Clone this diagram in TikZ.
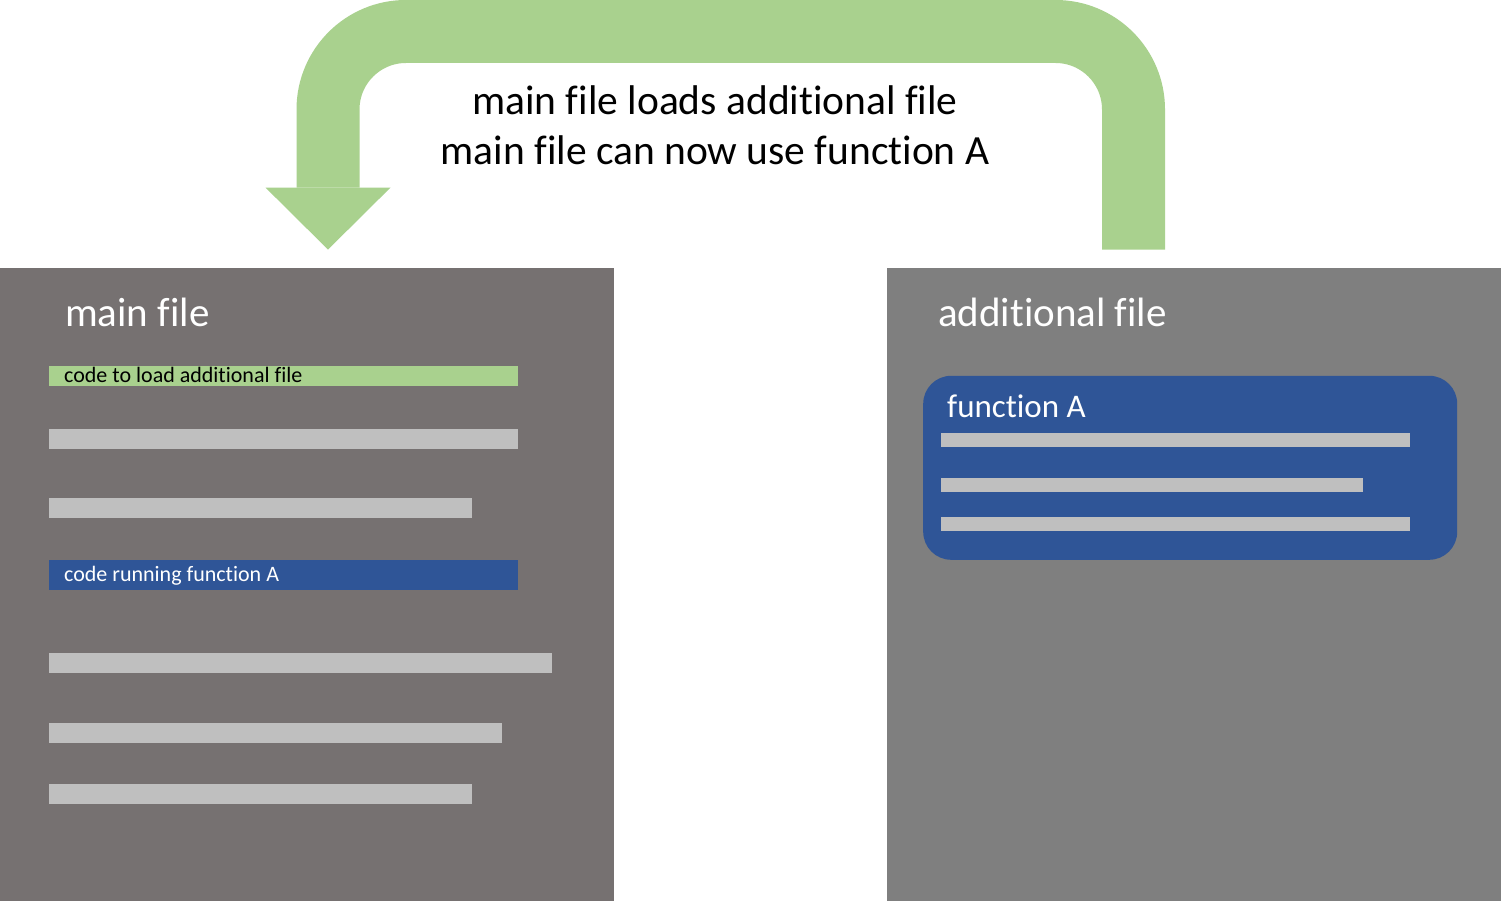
\documentclass[tikz,border=0pt]{standalone}
\usepackage{fontspec}
\setmainfont{Carlito}[Ligatures=NoCommon]
\usetikzlibrary{arrows.meta}
\usetikzlibrary{positioning}

\definecolor{maingray}{HTML}{767171}
\definecolor{addgray}{HTML}{7F7F7F}
\definecolor{linegray}{HTML}{BFBFBF}
\definecolor{loadgreen}{HTML}{A9D18E}
\definecolor{funcblue}{HTML}{2F5597}

\tikzset{
  filebox/.style={anchor=south west, minimum width=614pt, minimum height=633pt, inner sep=0pt},
  filetitle/.style={anchor=base west, inner sep=0pt, text=white, font=\fontsize{41}{49}\selectfont},
  codebar/.style={anchor=south west, minimum width=469pt, minimum height=20pt, inner sep=0pt},
  barlabel/.style={anchor=base west, inner sep=0pt, font=\fontsize{22}{26}\selectfont},
  funcbox/.style={anchor=south west, fill=funcblue, rounded corners=28pt, minimum width=534pt, minimum height=184pt, inner sep=0pt},
  caption/.style={anchor=base, inner sep=0pt, font=\fontsize{41.5}{49}\selectfont},
  loadarrow/.style={loadgreen, line width=63pt, rounded corners=78pt, -{Triangle[width=125pt,length=62pt,line width=0pt]}},
}

\begin{document}
\begin{tikzpicture}[x=1pt,y=1pt]
  \useasboundingbox[fill=white] (0,0) rectangle (1501,901);
  % the two files
  \node[filebox, fill=maingray] (mainfile) at (0,0) {};
  \node[filebox, fill=addgray] (addfile) at (887,0) {};
  \node[filetitle] (maintitle) at (65,574) {main file};
  \node[filetitle] (addtitle) at (938,574) {additional file};
  % lines of code in the main file
  \node[codebar, fill=loadgreen] (loadbar) at (49,515) {};
  \node[barlabel] (loadtext) at ([xshift=15pt,yshift=3pt]loadbar.south west) {code to load additional file};
  \node[codebar, fill=funcblue, minimum height=30pt] (runbar) at (49,311) {};
  \node[barlabel, text=white] (runtext) at ([xshift=15pt,yshift=8pt]runbar.south west) {code running function A};
  \foreach \y/\w in {452/469, 383/423, 228/503, 158/453, 97/423}
    \fill[linegray] (49,\y) rectangle ++(\w,20);
  % function A inside the additional file
  \node[funcbox] (funcA) at (923,341) {};
  \node[filetitle, font=\fontsize{33}{40}\selectfont] (functitle) at (947,483) {function A};
  \foreach \y/\w in {454/469, 409/422, 370/469}
    \fill[linegray] (941,\y) rectangle ++(\w,14);
  % loading arrow
  \coordinate (loadstart) at ([xshift=246.5pt,yshift=18pt]addfile.north west);
  \coordinate (loadend) at ([xshift=328pt,yshift=18pt]mainfile.north west);
  \coordinate (archtop) at (0,869.5);
  \draw[loadarrow] (loadstart) -- (loadstart |- archtop) -- (loadend |- archtop) -- (loadend);
  \node[caption] (capone) at (715,786) {main file loads additional file};
  \node[caption] (captwo) at ([yshift=-50pt]capone.base) {main file can now use function A};
\end{tikzpicture}
\end{document}
